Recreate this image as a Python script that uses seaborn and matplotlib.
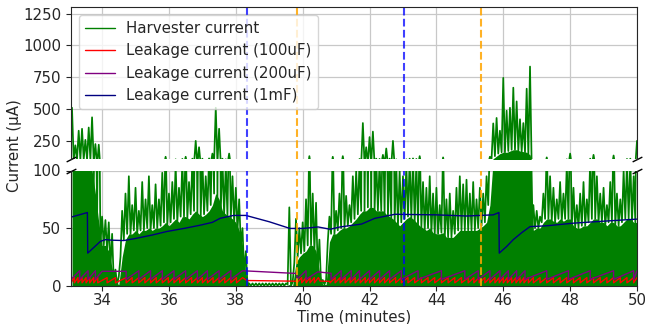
import numpy as np
import pandas as pd
import matplotlib
matplotlib.use("Agg")
import matplotlib.pyplot as plt
import seaborn as sns
from matplotlib.lines import Line2D

# ---------------- data ----------------
harv_t = np.round(np.arange(33.1, 50.001, 0.1), 2)
harv_peak = [510, 215, 330, 345, 258, 355, 435, 225, 220,
             60, 57, 55, 45, 14, 8, 65, 80, 95, 70,
             85, 65, 90, 75, 95, 70, 88, 75, 98, 125,
             80, 90, 105, 85, 108, 125, 90, 110, 250, 200,
             110, 95, 112, 150, 510, 345, 110, 105, 150, 95,
             85, 75, 50, 30, 2, 2, 2, 2, 2, 2,
             2, 2, 2, 2, 2, 2, 68, 3, 58, 50,
             55, 75, 130, 80, 72, 40, 5, 5, 60, 125,
             65, 80, 130, 78, 70, 95, 100, 108, 390, 200,
             280, 323, 110, 108, 140, 190, 110, 250, 105, 100,
             95, 105, 110, 112, 108, 130, 90, 85, 95, 80,
             85, 70, 120, 75, 80, 65, 85, 95, 88, 92,
             80, 90, 75, 85, 80, 95, 125, 387, 430, 330,
             745, 487, 510, 668, 560, 420, 390, 660, 834, 70,
             65, 60, 80, 120, 95, 85, 75, 90, 80, 105,
             150, 85, 70, 80, 90, 75, 110, 140, 95, 80,
             85, 70, 90, 135, 80, 75, 100, 108, 110, 95,
             250]
harv_base = [102, 102, 102, 102, 102, 102, 100, 80, 55,
             35, 35, 30, 15, 3, 1, 25, 40, 45, 45,
             48, 45, 48, 48, 50, 48, 50, 50, 52, 55,
             52, 55, 58, 55, 60, 60, 58, 62, 65, 62,
             60, 62, 65, 70, 80, 75, 65, 62, 60, 58,
             55, 48, 35, 10, 0, 0, 0, 0, 0, 0,
             0, 0, 0, 0, 0, 0, 1, 0, 20, 25,
             28, 30, 35, 35, 30, 12, 1, 1, 38, 45,
             45, 48, 50, 50, 52, 55, 58, 62, 65, 65,
             68, 68, 65, 65, 65, 62, 60, 58, 55, 52,
             55, 58, 60, 58, 55, 52, 50, 48, 50, 46,
             45, 45, 46, 42, 42, 42, 45, 48, 48, 48,
             48, 48, 48, 50, 52, 55, 70, 110, 130, 150,
             160, 160, 170, 180, 180, 170, 165, 160, 140, 48,
             50, 50, 55, 58, 58, 56, 55, 58, 56, 58,
             58, 52, 50, 50, 52, 52, 55, 58, 58, 55,
             55, 52, 55, 55, 52, 52, 55, 58, 58, 55,
             55]

# 1mF leakage (vertices)
mf_t = [33.07, 33.56, 33.57, 33.95, 34.1, 34.3, 34.65, 35.0, 35.5, 35.93, 36.5,
        36.93, 37.3, 37.53, 37.93, 38.3, 39.0, 39.62, 40.0, 40.46, 40.82, 41.12,
        41.76, 42.16, 42.76, 44.0, 44.9, 45.7, 45.87, 45.88, 46.1, 46.3, 46.55,
        46.8, 47.3, 48.1, 49.0, 50.0]
mf_v = [59.5, 63.5, 28.3, 38.5, 40.0, 39.5, 39.2, 41.0, 44.0, 47.0, 50.0,
        52.5, 55.0, 58.5, 61.0, 61.0, 55.5, 49.7, 49.7, 51.0, 49.0, 51.0,
        53.5, 58.5, 62.0, 61.5, 60.5, 61.5, 63.5, 28.3, 34.0, 40.0, 46.0,
        51.3, 52.0, 54.3, 56.0, 57.8]

# 200uF leakage: sawtooth reset times and levels
p_low, p_high = 5.5, 13.0
p_resets_a = [33.07, 33.33, 33.58, 33.8]
p_plateau_a = (34.0, 34.72, 12.5)
p_resets_b = [34.72, 35.1, 35.45, 35.8, 36.15, 36.5, 36.85, 37.15, 37.5, 37.85, 38.2]
p_idle_b = (38.33, 12.8, 39.83, 10.6)
p_resets_c = [39.83, 40.1]
p_idle_c = (40.45, 12.0, 40.85, 10.8)
p_resets_d = [40.85, 41.15, 41.45, 41.7, 42.0, 42.3, 42.6, 42.95, 43.45, 44.15,
              44.85, 45.25, 45.6, 45.9, 46.15, 46.4, 46.65, 47.3, 47.95, 48.6,
              49.3, 49.9, 50.0]

# 100uF leakage
r_low, r_high = 2.5, 7.0
r_resets_a = [33.07, 33.17, 33.28, 33.4, 33.52, 33.63, 33.75, 33.87, 34.15, 34.4,
              34.72, 34.9, 35.1, 35.28, 35.45, 35.62, 35.8, 35.98, 36.15, 36.32,
              36.5, 36.68, 36.85, 37.0, 37.15, 37.32, 37.5, 37.67, 37.85, 38.02, 38.2]
r_idle_a = (38.33, 4.5, 39.83, 3.9)
r_resets_b = [39.83, 39.97, 40.1, 40.22, 40.35, 40.47]
r_idle_b = (40.52, 4.0, 40.82, 3.8)
r_resets_c = [40.82, 40.97, 41.12, 41.27, 41.42, 41.57, 41.72, 41.87, 42.0, 42.15,
              42.3, 42.45, 42.6, 42.78, 42.95, 43.15, 43.35, 43.55, 43.75, 43.95,
              44.15, 44.35, 44.55, 44.75, 44.95, 45.12, 45.28, 45.45, 45.6, 45.75,
              45.88, 46.0, 46.12, 46.25, 46.38, 46.5, 46.62, 46.75, 46.9, 47.1,
              47.3, 47.5, 47.7, 47.9, 48.1, 48.3, 48.5, 48.7, 48.9, 49.1, 49.3,
              49.5, 49.7, 49.9, 50.0]

vline_blue = [38.33, 43.03]
vline_orange = [39.83, 45.33]

labels = ["Harvester current", "Leakage current (100uF)",
          "Leakage current (200uF)", "Leakage current (1mF)"]
colors = ["green", "red", "purple", "navy"]


# ---------------- build vertex lists ----------------
def saw(resets, low, high):
    t, v = [], []
    for a, b in zip(resets[:-1], resets[1:]):
        t += [a, b]
        v += [low, high]
    return t, v


def purple_series():
    t, v = saw(p_resets_a, p_low, p_high)
    t += [p_resets_a[-1], p_plateau_a[0], p_plateau_a[1]]
    v += [p_low, p_plateau_a[2], p_plateau_a[2]]
    tt, vv = saw(p_resets_b, p_low, p_high); t += tt; v += vv
    t += [p_idle_b[0], p_idle_b[2]]; v += [p_idle_b[1], p_idle_b[3]]
    tt, vv = saw(p_resets_c, p_low, p_high); t += tt; v += vv
    t += [p_resets_c[-1], p_idle_c[0], p_idle_c[2]]
    v += [p_low, p_idle_c[1], p_idle_c[3]]
    tt, vv = saw(p_resets_d, p_low, p_high); t += tt; v += vv
    return t, v


def red_series():
    t, v = saw(r_resets_a, r_low, r_high)
    t += [r_idle_a[0], r_idle_a[2]]; v += [r_idle_a[1], r_idle_a[3]]
    tt, vv = saw(r_resets_b, r_low, r_high); t += tt; v += vv
    t += [r_idle_b[0], r_idle_b[2]]; v += [r_idle_b[1], r_idle_b[3]]
    tt, vv = saw(r_resets_c, r_low, r_high); t += tt; v += vv
    return t, v


hx, hy = [], []
for tc, pk, bs in zip(harv_t, harv_peak, harv_base):
    hx += [tc - 0.05, tc]
    hy += [bs, pk]
harv_df = pd.DataFrame({"t": hx, "v": hy})
pt, pv = purple_series()
rt, rv = red_series()
purple_df = pd.DataFrame({"t": pt, "v": pv})
red_df = pd.DataFrame({"t": rt, "v": rv})
mf_df = pd.DataFrame({"t": mf_t, "v": mf_v})

# ---------------- plot ----------------
sns.set_style("ticks")
plt.rcParams["font.family"] = ["DejaVu Sans"]
FS = 10.8
plt.rcParams["font.size"] = FS

W, H = 645, 324
fig = plt.figure(figsize=(W / 100, H / 100), dpi=100)
x0, x1 = 71, 637
ax_top = fig.add_axes([x0 / W, 1 - 159.3 / H, (x1 - x0) / W, (159.3 - 7.3) / H])
ax_bot = fig.add_axes([x0 / W, 1 - 285.7 / H, (x1 - x0) / W, (285.7 - 170.5) / H])

for ax in (ax_top, ax_bot):
    ax.fill_between(harv_t, 0, harv_base, color="green", lw=0)
    sns.lineplot(data=harv_df, x="t", y="v", ax=ax, color="green", lw=1.25,
                 estimator=None, sort=False, legend=False)
    sns.lineplot(data=red_df, x="t", y="v", ax=ax, color="red", lw=1.0,
                 estimator=None, sort=False, legend=False)
    sns.lineplot(data=purple_df, x="t", y="v", ax=ax, color="purple", lw=1.0,
                 estimator=None, sort=False, legend=False)
    sns.lineplot(data=mf_df, x="t", y="v", ax=ax, color="navy", lw=1.0,
                 estimator=None, sort=False, legend=False)
    for xv in vline_blue:
        ax.axvline(xv, color="blue", ls="--", lw=1.5, alpha=0.75)
    for xv in vline_orange:
        ax.axvline(xv, color="orange", ls="--", lw=1.5, alpha=0.85)
    ax.set_xlim(33.07, 50.0)
    ax.grid(True, color="#c8c8c8", lw=0.9)
    ax.set_axisbelow(True)
    ax.set_ylabel("")
    ax.set_xlabel("")
    ax.tick_params(labelsize=FS)

ax_top.set_ylim(105, 1300)
ax_top.set_yticks([250, 500, 750, 1000, 1250])
ax_bot.set_ylim(0, 100)
ax_bot.set_yticks([0, 50, 100])
ax_bot.set_xticks(range(34, 51, 2))
ax_top.set_xticks(range(34, 51, 2))
ax_top.tick_params(axis="x", bottom=False, labelbottom=False)
ax_bot.tick_params(axis="x", pad=2)
ax_top.spines["bottom"].set_visible(False)
ax_bot.spines["top"].set_visible(False)
ax_bot.set_xlabel("Time (minutes)", fontsize=FS, labelpad=0.5)
fig.text(15 / W, 1 - 146 / H, "Current (µA)", rotation=90, ha="center",
         va="center", fontsize=FS)

# break marks
d = 0.5
kw = dict(marker=[(-1, -d), (1, d)], markersize=7, linestyle="none",
          color="k", mec="k", mew=1, clip_on=False)
ax_top.plot([0, 1], [0, 0], transform=ax_top.transAxes, **kw)
ax_bot.plot([0, 1], [1, 1], transform=ax_bot.transAxes, **kw)

handles = [Line2D([0], [0], color=c, lw=1.0) for c in colors]
ax_top.legend(handles, labels, loc="upper left", fontsize=FS)

fig.savefig("out.png", dpi=100)
